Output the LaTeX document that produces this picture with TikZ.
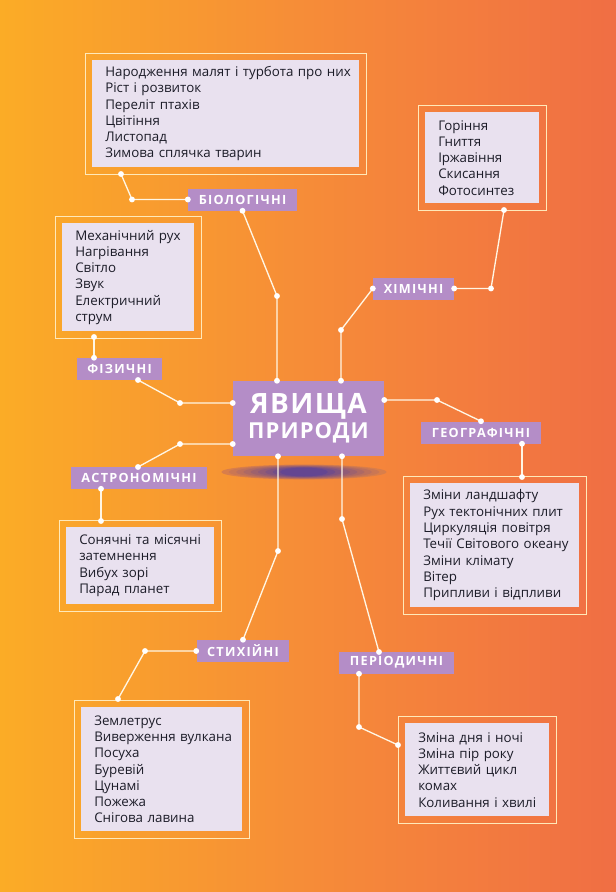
\documentclass[tikz,border=0pt]{standalone}
\usepackage{fontspec}
\setmainfont{Open Sans}
\newfontfamily\capsfont[LetterSpace=10]{Open Sans}
\newfontfamily\titlefont[LetterSpace=5]{Open Sans}
\usetikzlibrary{calc,fit}

\definecolor{bgleft}{RGB}{251,172,38}
\definecolor{bgmid}{RGB}{246,140,56}
\definecolor{bgright}{RGB}{240,110,68}
\definecolor{lilac}{RGB}{180,141,199}
\definecolor{lavender}{RGB}{233,225,239}
\definecolor{cream}{RGB}{255,233,185}
\definecolor{linkcol}{RGB}{255,246,228}
\definecolor{ink}{RGB}{28,28,40}
\definecolor{shade}{RGB}{100,70,145}

\begin{document}
\begin{tikzpicture}[x=0.75pt,y=-0.75pt,
  list/.style={fill=lavender,anchor=north west,inner xsep=3pt,text=ink,
    font=\fontsize{10}{12.2}\selectfont,
    execute at begin node={\raggedright\leftskip=6.75pt\relax}},
  ring/.style={draw=cream,line width=0.8pt,inner sep=5pt},
  tag/.style={fill=lilac,text=white,font=\capsfont\bfseries\fontsize{9.5}{10}\selectfont,
    minimum height=16.5pt,inner xsep=8pt,inner ysep=0pt},
  link/.style={draw=linkcol,line width=1pt}]
  \shade[left color=bgleft,right color=bgright,middle color=bgmid] (0,0) rectangle (616,892);

  % lists of phenomena
  \node[list,text width=194.25pt,minimum height=80.25pt] (bio) at (92,60)
    {Народження малят і турбота про них\\Ріст і розвиток\\Переліт птахів\\Цвітіння\\Листопад\\Зимова сплячка тварин};
  \node[list,text width=79.5pt,minimum height=68.25pt] (chm) at (425,112)
    {Горіння\\Гниття\\Іржавіння\\Скисання\\Фотосинтез};
  \node[list,text width=93pt,minimum height=81pt] (phy) at (62,223)
    {Механічний рух\\Нагрівання\\Світло\\Звук\\Електричний\\струм};
  \node[list,text width=105pt,minimum height=57.75pt] (ast) at (66,527)
    {Сонячні та місячні\\затемнення\\Вибух зорі\\Парад планет};
  \node[list,text width=120.75pt,minimum height=93pt] (geo) at (410,483)
    {Зміни ландшафту\\Рух тектонічних плит\\Циркуляція повітря\\Течії Світового океану\\Зміни клімату\\Вітер\\Припливи і відпливи};
  \node[list,text width=114.75pt,minimum height=93pt] (elm) at (81,707)
    {Землетрус\\Виверження вулкана\\Посуха\\Буревій\\Цунамі\\Пожежа\\Снігова лавина};
  \node[list,text width=102pt,minimum height=69.75pt] (per) at (405,723)
    {Зміна дня і ночі\\Зміна пір року\\Життєвий цикл\\комах\\Коливання і хвилі};
  \foreach \n in {bio,chm,phy,ast,geo,elm,per}
    \node[ring,fit=(\n)] (\n F) {};

  % soft shadow and central node
  \foreach \k in {0,...,8} {
    \pgfmathtruncatemacro\mix{20+10*\k}
    \fill[shade!\mix!bgmid] (304,472) ellipse [x radius={62pt-5.5pt*\k},y radius={5.6pt-0.3pt*\k}];
  }
  \node[fill=lilac,text=white,minimum width=113.25pt,minimum height=56.25pt,inner sep=0pt,align=center,
    font=\titlefont\bfseries\fontsize{21}{19}\selectfont] (core) at (308.5,418.5)
    {ЯВИЩА\\\fontsize{16.5}{19}\selectfont ПРИРОДИ};

  % group labels
  \node[tag] (bioL) at (242.5,199.5) {БІОЛОГІЧНІ};
  \node[tag] (chmL) at (413.5,288.5) {ХІМІЧНІ};
  \node[tag] (phyL) at (119.5,369) {ФІЗИЧНІ};
  \node[tag] (astL) at (139,477.5) {АСТРОНОМІЧНІ};
  \node[tag] (geoL) at (481,432.5) {ГЕОГРАФІЧНІ};
  \node[tag] (elmL) at (243,651) {СТИХІЙНІ};
  \node[tag] (perL) at (396.5,662.5) {ПЕРІОДИЧНІ};

  % bends
  \coordinate (bioA) at (277,296);
  \coordinate (bioB) at (132,199.5);
  \coordinate (bioC) at (121,174);
  \coordinate (chmA) at (341,330);
  \coordinate (chmB) at (491,288.5);
  \coordinate (chmC) at (504,210);
  \coordinate (phyA) at (180,403);
  \coordinate (phyB) at (138,380);
  \coordinate (phyC) at (94,337);
  \coordinate (astA) at (180,444);
  \coordinate (astB) at (138,467);
  \coordinate (astC) at (101,521);
  \coordinate (geoA) at (437,400);
  \coordinate (geoC) at (522,477);
  \coordinate (elmA) at (278,551);
  \coordinate (elmB) at (145,651);
  \coordinate (elmC) at (118,699);
  \coordinate (perA) at (342,519);
  \coordinate (perB) at (379,652);
  \coordinate (perC) at (359,727);
  \coordinate (perD) at (398,745);
  % ends on the central node and on the labels
  \coordinate (bio0) at (core.north -| bioA);
  \coordinate (chm0) at (core.north -| chmA);
  \coordinate (phy0) at (core.west |- phyA);
  \coordinate (ast0) at (core.west |- astA);
  \coordinate (geo0) at (core.east |- geoA);
  \coordinate (elm0) at (core.south -| elmA);
  \coordinate (per0) at (core.south -| perA);
  \coordinate (phy1) at (phyL.north -| phyC);
  \coordinate (ast1) at (astL.south -| astC);
  \coordinate (geo1) at (geoL.south -| geoC);
  \coordinate (per1) at (perL.south -| perC);

  \draw[link] (bio0) -- (bioA) -- (bioL.south);
  \draw[link] (bioL.west) -- (bioB) -- (bioC);
  \draw[link] (chm0) -- (chmA) -- (chmL.west);
  \draw[link] (chmL.east) -- (chmB) -- (chmC);
  \draw[link] (phy0) -- (phyA) -- (phyB);
  \draw[link] (phy1) -- (phyC);
  \draw[link] (ast0) -- (astA) -- (astB);
  \draw[link] (ast1) -- (astC);
  \draw[link] (geo0) -- (geoA) -- (geoL.north);
  \draw[link] (geo1) -- (geoC);
  \draw[link] (elm0) -- (elmA) -- (elmL.north);
  \draw[link] (elmL.west) -- (elmB) -- (elmC);
  \draw[link] (per0) -- (perA) -- (perB);
  \draw[link] (per1) -- (perC) -- (perD);

  \foreach \n in {bio0,bioA,bioL.south,bioL.west,bioB,bioC,
                  chm0,chmA,chmL.west,chmL.east,chmB,chmC,
                  phy0,phyA,phyB,phy1,phyC,
                  ast0,astA,astB,ast1,astC,
                  geo0,geoA,geoL.north,geo1,geoC,
                  elm0,elmA,elmL.north,elmL.west,elmB,elmC,
                  per0,perA,perB,per1,perC,perD}
    \fill[white] (\n) circle[radius=2.2pt];
\end{tikzpicture}
\end{document}
